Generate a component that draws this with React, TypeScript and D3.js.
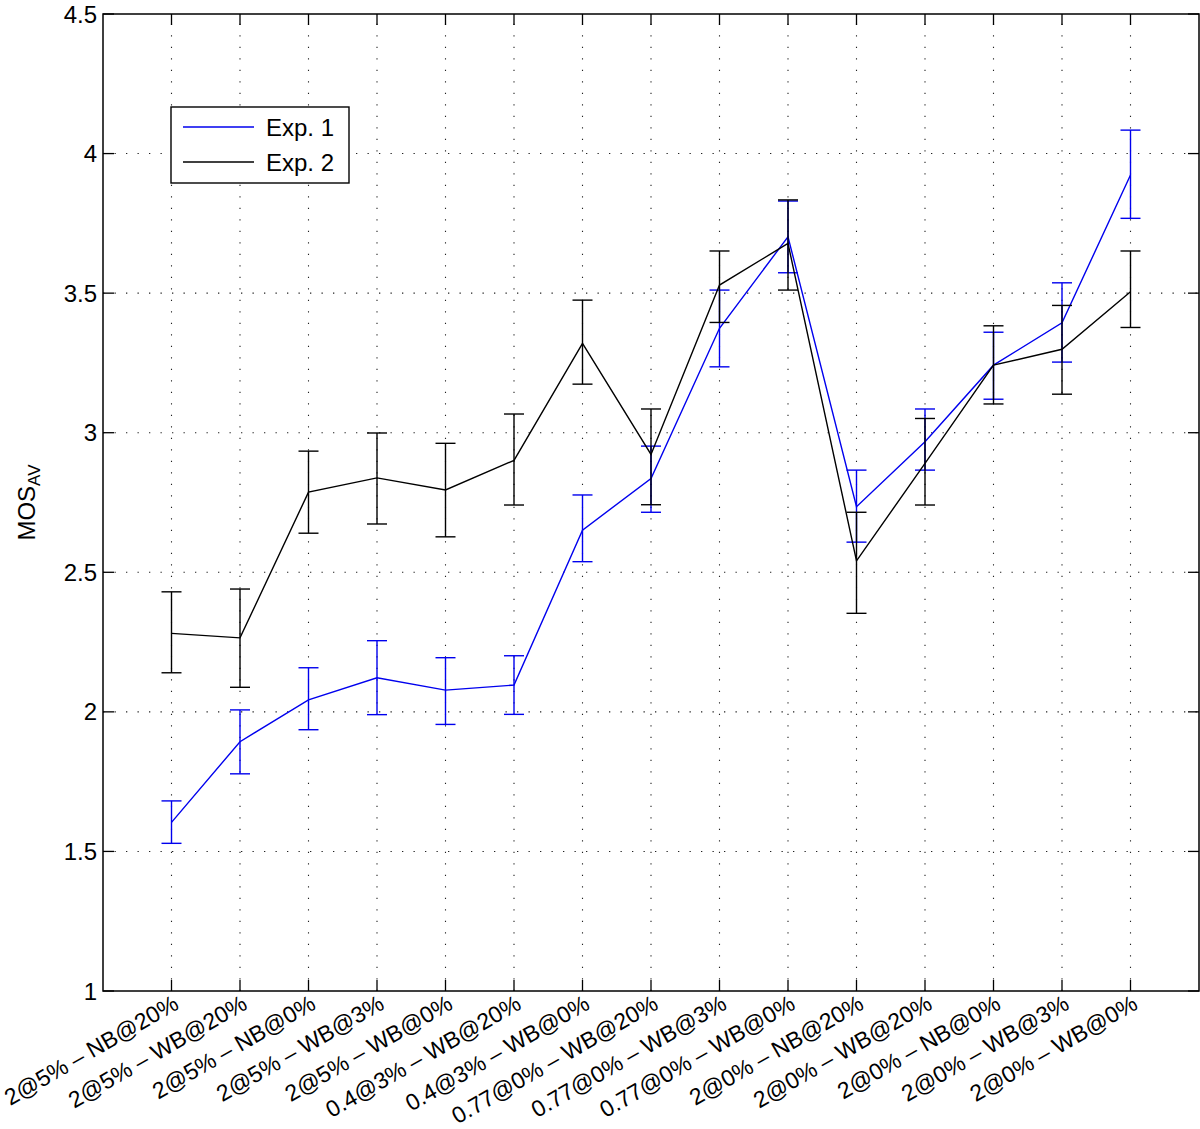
import * as d3 from 'd3';

// category labels along x
const categories = [
  '2@5% – NB@20%',
  '2@5% – WB@20%',
  '2@5% – NB@0%',
  '2@5% – WB@3%',
  '2@5% – WB@0%',
  '0.4@3% – WB@20%',
  '0.4@3% – WB@0%',
  '0.77@0% – WB@20%',
  '0.77@0% – WB@3%',
  '0.77@0% – WB@0%',
  '2@0% – NB@20%',
  '2@0% – WB@20%',
  '2@0% – NB@0%',
  '2@0% – WB@3%',
  '2@0% – WB@0%',
];

// Exp. 1 (blue)
const exp1Mean = [1.604, 1.893, 2.043, 2.122, 2.078, 2.096, 2.651, 2.836, 3.374, 3.702, 2.735, 2.968, 3.242, 3.394, 3.923];
const exp1Low = [1.529, 1.778, 1.936, 1.99, 1.955, 1.991, 2.538, 2.715, 3.236, 3.573, 2.608, 2.866, 3.12, 3.253, 3.768];
const exp1High = [1.681, 2.007, 2.158, 2.255, 2.194, 2.201, 2.777, 2.952, 3.511, 3.83, 2.866, 3.085, 3.36, 3.537, 4.084];

// Exp. 2 (black)
const exp2Mean = [2.281, 2.265, 2.787, 2.838, 2.795, 2.901, 3.32, 2.922, 3.529, 3.678, 2.541, 2.89, 3.242, 3.299, 3.505];
const exp2Low = [2.14, 2.088, 2.64, 2.673, 2.627, 2.741, 3.174, 2.742, 3.395, 3.511, 2.353, 2.741, 3.103, 3.138, 3.377];
const exp2High = [2.43, 2.44, 2.934, 2.999, 2.962, 3.067, 3.475, 3.085, 3.651, 3.834, 2.715, 3.051, 3.383, 3.456, 3.651];

const yTicks = [1, 1.5, 2, 2.5, 3, 3.5, 4, 4.5];

const font = '"Liberation Sans", Arial, Helvetica, sans-serif';

export default function App() {
  const W = 1200;
  const H = 1129;
  const left = 103, right = 1199, top = 14, bottom = 991;

  const x = d3.scaleLinear().domain([0, 16]).range([left, right]);
  const y = d3.scaleLinear().domain([1, 4.5]).range([bottom, top]);

  const idx = d3.range(categories.length);
  const line = d3.line<number>();

  const series = [
    { name: 'Exp. 1', color: '#0000ee', mean: exp1Mean, lo: exp1Low, hi: exp1High },
    { name: 'Exp. 2', color: '#000000', mean: exp2Mean, lo: exp2Low, hi: exp2High },
  ];

  const tick = 11;
  const cap = 10;

  return (
    <svg width={W} height={H} style={{ position: 'absolute', left: 0, top: 0, background: '#fff' }}
      fontFamily={font}>
      <rect x={0} y={0} width={W} height={H} fill="#fff" />

      {/* grid */}
      <g stroke="#222" strokeWidth={1.1} strokeDasharray="1.3 10.2">
        {yTicks.slice(1, -1).map(t => (
          <line key={'gy' + t} x1={left} x2={right} y1={y(t)} y2={y(t)} />
        ))}
        {idx.map(i => (
          <line key={'gx' + i} x1={x(i + 1)} x2={x(i + 1)} y1={bottom} y2={top} />
        ))}
      </g>

      {/* ticks */}
      <g stroke="#000" strokeWidth={1.3}>
        {yTicks.map(t => (
          <g key={'ty' + t}>
            <line x1={left} x2={left + tick} y1={y(t)} y2={y(t)} />
            <line x1={right} x2={right - tick} y1={y(t)} y2={y(t)} />
          </g>
        ))}
        {idx.map(i => (
          <g key={'tx' + i}>
            <line x1={x(i + 1)} x2={x(i + 1)} y1={bottom} y2={bottom - tick} />
            <line x1={x(i + 1)} x2={x(i + 1)} y1={top} y2={top + tick} />
          </g>
        ))}
      </g>

      {/* series */}
      {series.map(s => (
        <g key={s.name} stroke={s.color} strokeWidth={1.4} fill="none">
          <path d={line(idx.map(i => [x(i + 1), y(s.mean[i])]) as any) || ''} />
          {idx.map(i => (
            <g key={i}>
              <line x1={x(i + 1)} x2={x(i + 1)} y1={y(s.lo[i])} y2={y(s.hi[i])} />
              <line x1={x(i + 1) - cap} x2={x(i + 1) + cap} y1={y(s.lo[i])} y2={y(s.lo[i])} />
              <line x1={x(i + 1) - cap} x2={x(i + 1) + cap} y1={y(s.hi[i])} y2={y(s.hi[i])} />
            </g>
          ))}
        </g>
      ))}

      {/* frame */}
      <rect x={left} y={top} width={right - left} height={bottom - top} fill="none" stroke="#000" strokeWidth={1.5} />

      {/* y tick labels */}
      <g fontSize={24} textAnchor="end" fill="#000">
        {yTicks.map(t => (
          <text key={'yl' + t} x={left - 6} y={y(t)} dy="0.36em">{String(t)}</text>
        ))}
      </g>

      {/* x tick labels */}
      <g fontSize={23} textAnchor="end" fill="#000">
        {categories.map((c, i) => (
          <text key={'xl' + i} transform={`translate(${x(i + 1)},${bottom + 2}) rotate(-30)`} dy="0.75em">{c}</text>
        ))}
      </g>

      {/* y axis label */}
      <text transform={`translate(35,${(top + bottom) / 2}) rotate(-90)`} textAnchor="middle" fontSize={24} fill="#000">
        MOS<tspan fontSize={17} dy={5}>AV</tspan>
      </text>

      {/* legend */}
      <g>
        <rect x={171} y={107} width={178} height={76} fill="#fff" stroke="#000" strokeWidth={1.4} />
        {series.map((s, i) => (
          <g key={'lg' + i}>
            <line x1={183} x2={254} y1={127 + i * 35} y2={127 + i * 35} stroke={s.color} strokeWidth={1.4} />
            <text x={266} y={127 + i * 35} dy="0.36em" fontSize={24} fill="#000">{s.name}</text>
          </g>
        ))}
      </g>
    </svg>
  );
}
